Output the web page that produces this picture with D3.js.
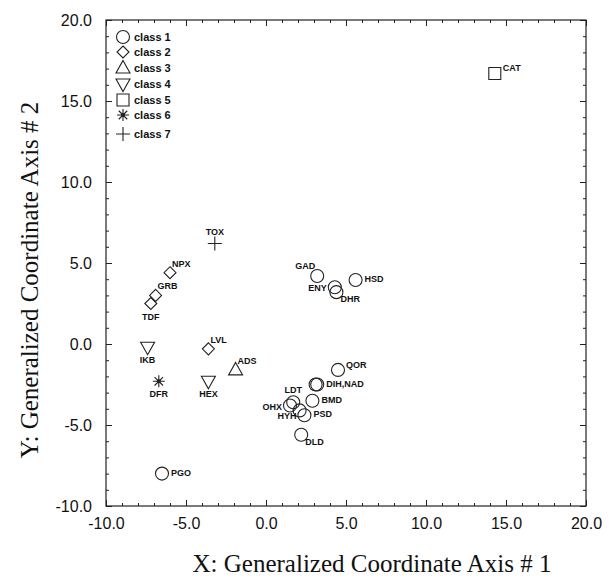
<!DOCTYPE html>
<html lang="en">
<head>
<meta charset="utf-8">
<title>Generalized Coordinate Axes</title>
<script src="https://d3js.org/d3.v7.min.js"></script>
<style>
  body { margin: 0; background: #fff; }
  .tick text { font-family: "Liberation Sans", Arial, sans-serif; font-size: 16px; fill: #111; }
  .pt-label { font-family: "Liberation Sans", Arial, sans-serif; font-weight: bold; font-size: 9px; fill: #111; }
  .legend text { font-family: "Liberation Sans", Arial, sans-serif; font-weight: bold; font-size: 11px; fill: #111; }
  .title { font-family: "Liberation Serif", "Times New Roman", serif; font-size: 25px; fill: #111; }
</style>
</head>
<body>
<div id="chart"></div>
<script>
// data
var names   = ["CAT", "TOX", "NPX", "GRB", "TDF", "LVL", "IKB", "ADS", "DFR", "HEX", "PGO",
               "GAD", "ENY", "DHR", "HSD", "QOR", "DIH,NAD", "", "BMD", "LDT", "OHX", "HYH", "PSD", "DLD"];
var xVals   = [14.3, -3.2, -6.0, -6.9, -7.2, -3.6, -7.4, -1.9, -6.7, -3.6, -6.5,
               3.2, 4.3, 4.4, 5.6, 4.5, 3.2, 3.1, 2.9, 1.7, 1.5, 2.1, 2.4, 2.2];
var yVals   = [16.7, 6.2, 4.4, 3.0, 2.5, -0.3, -0.2, -1.6, -2.3, -2.3, -8.0,
               4.2, 3.5, 3.2, 3.95, -1.6, -2.5, -2.5, -3.5, -3.6, -3.8, -4.1, -4.4, -5.6];
var classes = [5, 7, 2, 2, 2, 2, 4, 3, 6, 4, 1,
               1, 1, 1, 1, 1, 1, 1, 1, 1, 1, 1, 1, 1];
// where each label sits next to its marker
var labelSide = ["rt", "t", "tr", "tr", "b", "tr", "b", "tr", "b", "b", "r",
                 "tl", "l", "br", "r", "rt", "r", "r", "r", "t", "l", "bl", "r", "br"];
var legendLabels = ["class 1", "class 2", "class 3", "class 4", "class 5", "class 6", "class 7"];
var majorTicks = [-10, -5, 0, 5, 10, 15, 20];

var w = 612, h = 579;
var svg = d3.select("#chart").append("svg").attr("width", w).attr("height", h);

var x = d3.scaleLinear().domain([-10, 20]).range([106, 586]);
var y = d3.scaleLinear().domain([-10, 20]).range([506, 20]);
var minorTicks = d3.range(-10, 20.5, 1);
var fmt = function(v) { return v.toFixed(1); };   // plain hyphen minus, like the original

// custom symbols
var sym = {
  1: {draw: function(c, s) { c.moveTo(6.5, 0); c.arc(0, 0, 6.5, 0, 2 * Math.PI); }},
  2: {draw: function(c, s) { var r = 6; c.moveTo(0, -r); c.lineTo(r, 0); c.lineTo(0, r); c.lineTo(-r, 0); c.closePath(); }},
  3: {draw: function(c, s) { c.moveTo(0, -7.5); c.lineTo(7, 5); c.lineTo(-7, 5); c.closePath(); }},
  4: {draw: function(c, s) { c.moveTo(0, 7.5); c.lineTo(7, -5); c.lineTo(-7, -5); c.closePath(); }},
  5: {draw: function(c, s) { c.moveTo(-6, -6); c.lineTo(6, -6); c.lineTo(6, 6); c.lineTo(-6, 6); c.closePath(); }},
  6: {draw: function(c, s) {
        var r = 6;
        for (var k = 0; k < 4; k++) {
          var a = k * Math.PI / 4;
          c.moveTo(-r * Math.cos(a), -r * Math.sin(a));
          c.lineTo(r * Math.cos(a), r * Math.sin(a));
        }
      }},
  7: {draw: function(c, s) { c.moveTo(-7, 0); c.lineTo(7, 0); c.moveTo(0, -7); c.lineTo(0, 7); }}
};
function symPath(cls) { return d3.symbol().type(sym[cls])(); }

// frame
svg.append("rect").attr("x", 106).attr("y", 20).attr("width", 480).attr("height", 486)
   .attr("fill", "none").attr("stroke", "#222").attr("stroke-width", 1.2);

// axes with inward ticks, all four sides
function styleAxis(g) {
  g.select(".domain").remove();
  g.selectAll(".tick line").attr("stroke", "#222").attr("stroke-width", 1);
}
svg.append("g").attr("transform", "translate(0,506)")
   .call(d3.axisBottom(x).tickValues(minorTicks).tickSize(-3).tickFormat(""))
   .call(styleAxis);
svg.append("g").attr("transform", "translate(0,506)")
   .call(d3.axisBottom(x).tickValues(majorTicks).tickSize(-6).tickPadding(12).tickFormat(fmt))
   .call(styleAxis);
svg.append("g").attr("transform", "translate(0,20)")
   .call(d3.axisTop(x).tickValues(minorTicks).tickSize(-3).tickFormat(""))
   .call(styleAxis);
svg.append("g").attr("transform", "translate(0,20)")
   .call(d3.axisTop(x).tickValues(majorTicks).tickSize(-6).tickFormat(""))
   .call(styleAxis);
svg.append("g").attr("transform", "translate(106,0)")
   .call(d3.axisLeft(y).tickValues(minorTicks).tickSize(-3).tickFormat(""))
   .call(styleAxis);
svg.append("g").attr("transform", "translate(106,0)")
   .call(d3.axisLeft(y).tickValues(majorTicks).tickSize(-6).tickPadding(14).tickFormat(fmt))
   .call(styleAxis);
svg.append("g").attr("transform", "translate(586,0)")
   .call(d3.axisRight(y).tickValues(minorTicks).tickSize(-3).tickFormat(""))
   .call(styleAxis);
svg.append("g").attr("transform", "translate(586,0)")
   .call(d3.axisRight(y).tickValues(majorTicks).tickSize(-6).tickFormat(""))
   .call(styleAxis);

// points
var pts = names.map(function(n, i) { return {name: n, x: xVals[i], y: yVals[i], cls: classes[i], side: labelSide[i]}; });
svg.append("g").selectAll("path").data(pts).enter().append("path")
   .attr("transform", function(d) { return "translate(" + x(d.x) + "," + y(d.y) + ")"; })
   .attr("d", function(d) { return symPath(d.cls); })
   .attr("fill", "none").attr("stroke", "#222").attr("stroke-width", 1.1);
svg.append("g").selectAll("circle").data(pts.filter(function(d) { return d.cls === 6; })).enter()
   .append("circle").attr("cx", function(d) { return x(d.x); }).attr("cy", function(d) { return y(d.y); })
   .attr("r", 2).attr("fill", "#222");

var off = {
  r:  {dx: 9,  dy: 2,  a: "start"},
  rt: {dx: 8,  dy: -2, a: "start"},
  l:  {dx: -8, dy: 4,  a: "end"},
  t:  {dx: 0,  dy: -9, a: "middle"},
  b:  {dx: 0,  dy: 16, a: "middle"},
  tr: {dx: 2,  dy: -6, a: "start"},
  tl: {dx: -2, dy: -7, a: "end"},
  br: {dx: 4,  dy: 10, a: "start"},
  bl: {dx: -3, dy: 9,  a: "end"}
};
svg.append("g").selectAll("text").data(pts).enter().append("text")
   .attr("class", "pt-label")
   .attr("x", function(d) { return x(d.x) + off[d.side].dx; })
   .attr("y", function(d) { return y(d.y) + off[d.side].dy; })
   .attr("text-anchor", function(d) { return off[d.side].a; })
   .text(function(d) { return d.name; });

// legend
var legendY = [37, 52, 68, 84, 100, 115, 134];
var lg = svg.append("g").attr("class", "legend");
legendLabels.forEach(function(t, i) {
  lg.append("path").attr("transform", "translate(123," + legendY[i] + ")")
    .attr("d", symPath(i + 1)).attr("fill", "none").attr("stroke", "#222").attr("stroke-width", 1.1);
  if (i === 5) lg.append("circle").attr("cx", 123).attr("cy", legendY[i]).attr("r", 2).attr("fill", "#222");
  lg.append("text").attr("x", 134).attr("y", legendY[i] + 4).text(t);
});

// axis titles
svg.append("text").attr("class", "title").attr("x", 372).attr("y", 572)
   .attr("text-anchor", "middle").text("X: Generalized Coordinate Axis # 1");
svg.append("text").attr("class", "title")
   .attr("transform", "translate(38,280) rotate(-90)")
   .attr("text-anchor", "middle").text("Y: Generalized Coordinate Axis # 2");
</script>
</body>
</html>
